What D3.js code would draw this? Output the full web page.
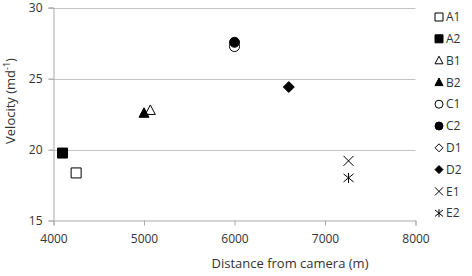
<!DOCTYPE html>
<html>
<head>
<meta charset="utf-8">
<script src="https://cdn.jsdelivr.net/npm/d3@7"></script>
<style>
  body { margin: 0; background: #fff; }
  text { font-family: "Open Sans", sans-serif; fill: #333; }
</style>
</head>
<body>
<div id="chart"></div>
<script>
// data
const names = ["A1", "A2", "B1", "B2", "C1", "C2", "D1", "D2", "E1", "E2"];
const distance = [4250, 4100, 5070, 5000, 6000, 6000, 6600, 6600, 7260, 7260];
const velocity = [18.35, 19.75, 22.75, 22.55, 27.25, 27.55, 24.4, 24.4, 19.2, 18.0];
const shapes = ["square", "square", "triangle", "triangle", "circle", "circle", "diamond", "diamond", "times", "asterisk"];
const filled = [false, true, false, true, false, true, false, true, false, false];
const xTicks = [4000, 5000, 6000, 7000, 8000];
const yTicks = [15, 20, 25, 30];

const width = 472, height = 276;
const svg = d3.select("#chart").append("svg")
  .attr("width", width)
  .attr("height", height);

const x = d3.scaleLinear().domain([4000, 8000]).range([53.5, 415.5]);
const y = d3.scaleLinear().domain([15, 30]).range([220.5, 7.5]);

// marker path, s = full size in px
function shapePath(type, s) {
  const h = s / 2;
  const p = d3.path();
  if (type === "square") {
    p.rect(-h, -h, s, s);
  } else if (type === "triangle") {
    p.moveTo(0, -h * 1.1); p.lineTo(h, h * 0.8); p.lineTo(-h, h * 0.8); p.closePath();
  } else if (type === "circle") {
    p.arc(0, 0, h, 0, 2 * Math.PI);
  } else if (type === "diamond") {
    p.moveTo(0, -h); p.lineTo(h, 0); p.lineTo(0, h); p.lineTo(-h, 0); p.closePath();
  } else if (type === "times") {
    p.moveTo(-h, -h); p.lineTo(h, h); p.moveTo(-h, h); p.lineTo(h, -h);
  } else if (type === "asterisk") {
    p.moveTo(-h, -h * 0.8); p.lineTo(h, h * 0.8); p.moveTo(-h, h * 0.8); p.lineTo(h, -h * 0.8);
    p.moveTo(0, -h); p.lineTo(0, h);
  }
  return p.toString();
}

function styleMarker(sel) {
  sel.attr("fill", (d, i) => {
      const k = names.indexOf(d);
      if (shapes[k] === "times" || shapes[k] === "asterisk") return "none";
      return filled[k] ? "#000" : "#fff";
    })
    .attr("stroke", "#000")
    .attr("stroke-width", 1);
}

// gridlines
svg.append("g")
  .selectAll("line")
  .data(yTicks.slice(1))
  .enter()
  .append("line")
  .attr("x1", x(4000) - 5)
  .attr("x2", x(8000))
  .attr("y1", d => Math.round(y(d)) + 0.5)
  .attr("y2", d => Math.round(y(d)) + 0.5)
  .attr("stroke", "#c4c4c4")
  .attr("stroke-width", 1);

// y axis
const yAxis = svg.append("g")
  .attr("transform", `translate(${x(4000)},0)`)
  .call(d3.axisLeft(y).tickValues(yTicks).tickSize(5).tickPadding(6));
yAxis.select(".domain").attr("stroke", "#aaa");
yAxis.selectAll(".tick line").attr("stroke", "#aaa");
yAxis.selectAll("text").style("font-size", "12px").attr("fill", "#333")
  .style("font-family", "Open Sans, sans-serif");

// x axis
const xAxis = svg.append("g")
  .attr("transform", `translate(0,${y(15)})`)
  .call(d3.axisBottom(x).tickValues(xTicks).tickSize(5).tickPadding(9).tickFormat(d3.format("d")));
xAxis.select(".domain").attr("stroke", "#aaa");
xAxis.selectAll(".tick line").attr("stroke", "#aaa");
xAxis.selectAll("text").style("font-size", "12px").attr("fill", "#333")
  .style("font-family", "Open Sans, sans-serif");

// axis titles
svg.append("text")
  .attr("x", 290)
  .attr("y", 268)
  .attr("text-anchor", "middle")
  .style("font-size", "13px")
  .text("Distance from camera (m)");

const yt = svg.append("text")
  .attr("transform", `translate(15,101) rotate(-90)`)
  .attr("text-anchor", "middle")
  .style("font-size", "13px");
yt.append("tspan").text("Velocity (md");
yt.append("tspan").attr("dy", -5).style("font-size", "9px").text("-1");
yt.append("tspan").attr("dy", 5).text(")");

// points
svg.append("g")
  .selectAll("path")
  .data(names)
  .enter()
  .append("path")
  .attr("transform", (d, i) => `translate(${x(distance[i])},${y(velocity[i])})`)
  .attr("d", (d, i) => shapePath(shapes[i], shapes[i] === "diamond" && !filled[i] ? 11 : 10))
  .call(styleMarker);

// legend
const leg = svg.append("g")
  .selectAll("g")
  .data(names)
  .enter()
  .append("g")
  .attr("transform", (d, i) => `translate(439,${17 + i * 21.8})`);
leg.append("path")
  .attr("d", (d, i) => shapePath(shapes[i], 8))
  .call(styleMarker);
leg.append("text")
  .attr("x", 7)
  .attr("dy", "0.35em")
  .style("font-size", "12px")
  .text(d => d);
</script>
</body>
</html>
